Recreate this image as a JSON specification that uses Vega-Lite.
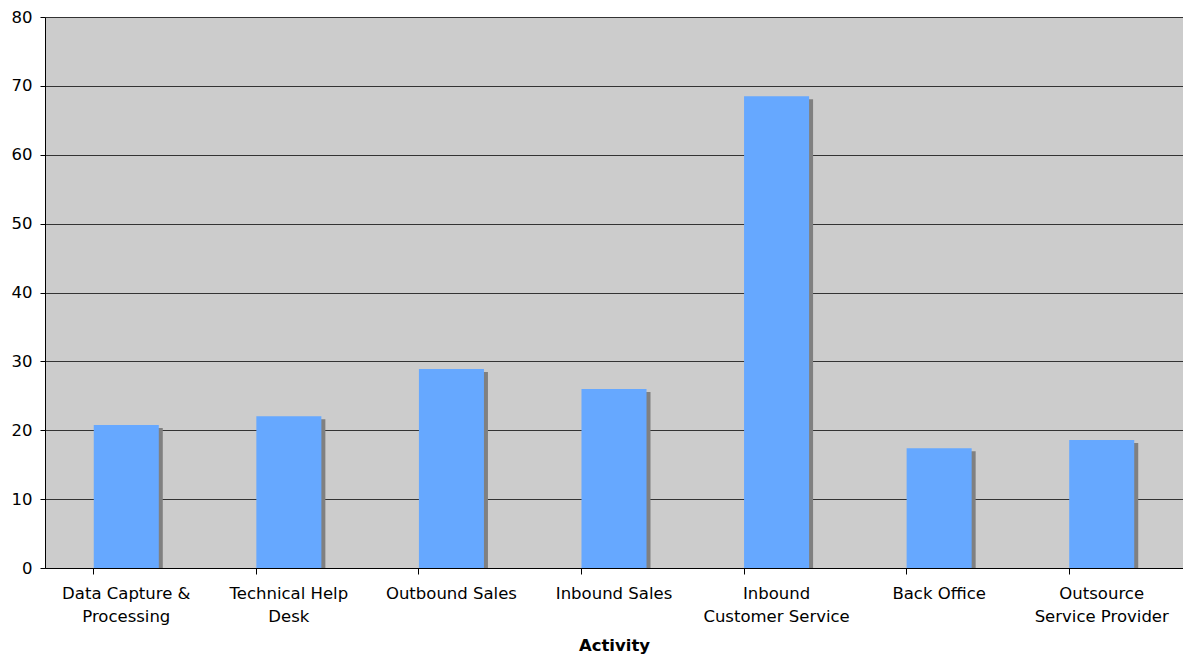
{
  "$schema": "https://vega.github.io/schema/vega-lite/v6.json",
  "width": 1138,
  "height": 551,
  "autosize": "none",
  "padding": {"left": 45, "top": 17, "right": 0, "bottom": 89},
  "background": "white",
  "config": {
    "view": {"fill": "#CCCCCC", "stroke": null},
    "font": "DejaVu Sans"
  },
  "data": {
    "values": [
      {"Activity": "Data Capture & Processing", "Value": 20.75},
      {"Activity": "Technical Help Desk", "Value": 22.05},
      {"Activity": "Outbound Sales", "Value": 28.9},
      {"Activity": "Inbound Sales", "Value": 26.0},
      {"Activity": "Inbound Customer Service", "Value": 68.5},
      {"Activity": "Back Office", "Value": 17.4},
      {"Activity": "Outsource Service Provider", "Value": 18.6}
    ]
  },
  "encoding": {
    "x": {
      "field": "Activity",
      "type": "nominal",
      "sort": null,
      "scale": {"paddingInner": 0.6, "paddingOuter": 0.3},
      "axis": {
        "title": "Activity",
        "titleFont": "DejaVu Sans",
        "titleFontSize": 16.5,
        "titleFontWeight": "bold",
        "titleColor": "#000",
        "titlePadding": 13,
        "labelAngle": 0,
        "labelFont": "DejaVu Sans",
        "labelFontSize": 16.5,
        "labelColor": "#000",
        "labelPadding": 11,
        "labelLineHeight": 23,
        "labelExpr": "datum.label == 'Data Capture & Processing' ? ['Data Capture &', 'Processing'] : datum.label == 'Technical Help Desk' ? ['Technical Help', 'Desk'] : datum.label == 'Inbound Customer Service' ? ['Inbound', 'Customer Service'] : datum.label == 'Outsource Service Provider' ? ['Outsource', 'Service Provider'] : datum.label",
        "bandPosition": 0,
        "tickSize": 6,
        "tickColor": "#000",
        "domainColor": "#000",
        "grid": false
      }
    },
    "y": {
      "field": "Value",
      "type": "quantitative",
      "scale": {"domain": [0, 80]},
      "axis": {
        "title": null,
        "values": [0, 10, 20, 30, 40, 50, 60, 70, 80],
        "labelFont": "DejaVu Sans",
        "labelFontSize": 16.5,
        "labelColor": "#000",
        "labelPadding": 8,
        "tickSize": 5,
        "tickColor": "#000",
        "domainColor": "#000",
        "grid": true,
        "gridColor": "#333",
        "gridOpacity": 1,
        "gridWidth": 1
      }
    }
  },
  "layer": [
    {
      "mark": {"type": "bar", "color": "#808080", "xOffset": 4, "yOffset": 3, "clip": true}
    },
    {
      "mark": {"type": "bar", "color": "#66A8FF"}
    }
  ]
}
